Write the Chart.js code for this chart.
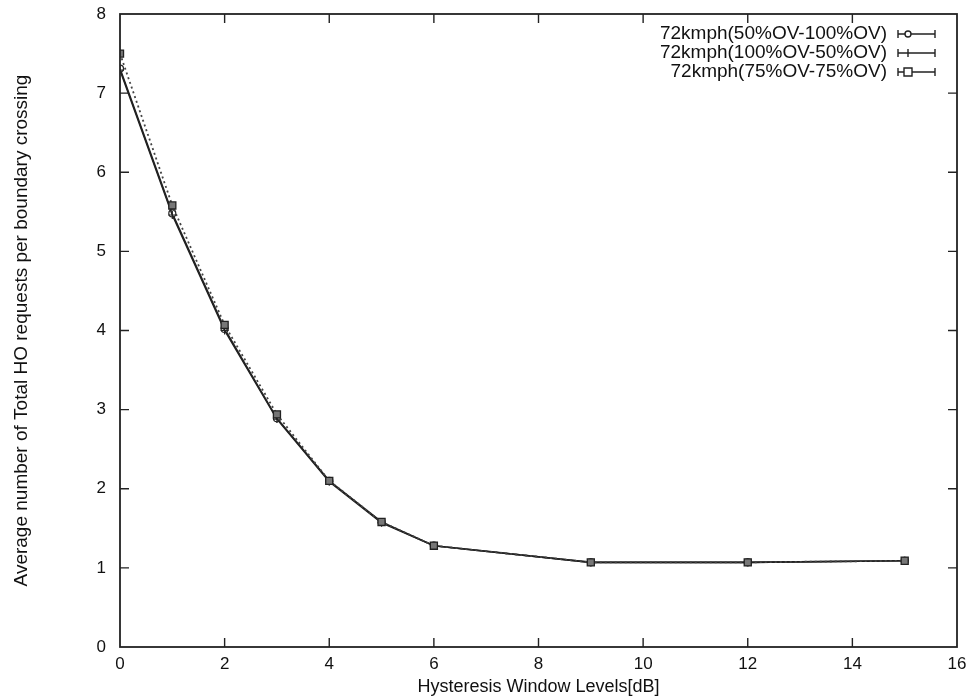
<!DOCTYPE html>
<html>
<head>
<meta charset="utf-8">
<script src="https://cdn.jsdelivr.net/npm/chart.js@4.4.1/dist/chart.umd.min.js"></script>
<style>
  html, body { margin: 0; padding: 0; background: #fff; }
  canvas { display: block; }
</style>
</head>
<body>
<canvas id="ho-chart" width="979" height="699"></canvas>
<script>
// hysteresis window levels (dB)
const hysteresis = [0, 1, 2, 3, 4, 5, 6, 9, 12, 15]

const seriesLabels = [
  '72kmph(50%OV-100%OV)',
  '72kmph(100%OV-50%OV)',
  '72kmph(75%OV-75%OV)'
]
const ov50to100 = [7.31, 5.48, 4.02, 2.89, 2.1, 1.58, 1.28, 1.07, 1.07, 1.09]
const ov100to50 = [7.29, 5.46, 4.0, 2.88, 2.09, 1.57, 1.28, 1.07, 1.07, 1.09]
const ov75to75 = [7.5, 5.58, 4.07, 2.94, 2.1, 1.58, 1.28, 1.07, 1.07, 1.09]

const xTicks = [0, 2, 4, 6, 8, 10, 12, 14, 16]
const yTicks = [0, 1, 2, 3, 4, 5, 6, 7, 8]

const ink = '#222'
const font = "'Liberation Sans', Arial, sans-serif"

const toPoints = (ys) => ys.map((y, i) => ({ x: hysteresis[i], y }))

// gnuplot-like frame with inward mirrored ticks + legend at top right
const framePlugin = {
  id: 'frame',
  afterDatasetsDraw(chart) {
    const { ctx, chartArea: a, scales } = chart
    ctx.save()
    ctx.strokeStyle = ink
    ctx.lineWidth = 1.8
    ctx.strokeRect(a.left, a.top, a.right - a.left, a.bottom - a.top)
    ctx.lineWidth = 1.4
    ctx.beginPath()
    xTicks.slice(1, -1).forEach(v => {
      const px = scales.x.getPixelForValue(v)
      ctx.moveTo(px, a.bottom); ctx.lineTo(px, a.bottom - 9)
      ctx.moveTo(px, a.top); ctx.lineTo(px, a.top + 9)
    })
    yTicks.slice(1, -1).forEach(v => {
      const py = scales.y.getPixelForValue(v)
      ctx.moveTo(a.left, py); ctx.lineTo(a.left + 9, py)
      ctx.moveTo(a.right, py); ctx.lineTo(a.right - 9, py)
    })
    ctx.stroke()

    // legend
    ctx.font = '19px ' + font
    ctx.fillStyle = '#111'
    ctx.textAlign = 'right'
    ctx.textBaseline = 'middle'
    const textRight = a.right - 70
    const x0 = a.right - 59, x1 = a.right - 22
    seriesLabels.forEach((lab, i) => {
      const y = a.top + 20 + i * 19
      ctx.fillText(lab, textRight, y)
      ctx.lineWidth = 1.4
      ctx.beginPath()
      ctx.moveTo(x0, y); ctx.lineTo(x1, y)
      ctx.moveTo(x0, y - 4); ctx.lineTo(x0, y + 4)
      ctx.moveTo(x1, y - 4); ctx.lineTo(x1, y + 4)
      ctx.stroke()
      const mx = x0 + 10
      ctx.beginPath()
      if (i === 0) {
        ctx.fillStyle = '#fff'
        ctx.arc(mx, y, 3, 0, Math.PI * 2)
        ctx.fill(); ctx.stroke()
      } else if (i === 1) {
        ctx.moveTo(mx, y - 4); ctx.lineTo(mx, y + 4)
        ctx.stroke()
      } else {
        ctx.fillStyle = '#fff'
        ctx.rect(mx - 4, y - 4, 8, 8)
        ctx.fill(); ctx.stroke()
      }
      ctx.fillStyle = '#111'
    })
    ctx.restore()
  }
}

new Chart(document.getElementById('ho-chart'), {
  type: 'line',
  data: {
    datasets: [
      {
        label: seriesLabels[0],
        data: toPoints(ov50to100),
        order: 2,
        borderColor: ink,
        borderWidth: 1.6,
        pointStyle: 'circle',
        pointRadius: 3.5,
        pointBorderColor: ink,
        pointBackgroundColor: '#fff',
        pointBorderWidth: 1.2
      },
      {
        label: seriesLabels[1],
        data: toPoints(ov100to50),
        order: 1,
        borderColor: ink,
        borderWidth: 1.6,
        pointStyle: 'cross',
        pointRadius: 4,
        pointBorderColor: ink,
        pointBorderWidth: 1.2
      },
      {
        label: seriesLabels[2],
        data: toPoints(ov75to75),
        order: 0,
        borderColor: '#444',
        borderWidth: 1.8,
        borderDash: [2, 3],
        pointStyle: 'rect',
        pointRadius: 5,
        pointBorderColor: ink,
        pointBackgroundColor: '#777',
        pointBorderWidth: 1.3
      }
    ]
  },
  options: {
    responsive: false,
    animation: false,
    devicePixelRatio: 1,
    layout: { padding: { left: 10, right: 22, top: 14, bottom: 0 } },
    plugins: {
      legend: { display: false },
      tooltip: { enabled: false }
    },
    scales: {
      x: {
        type: 'linear',
        min: 0,
        max: 16,
        afterBuildTicks: (s) => { s.ticks = xTicks.map(v => ({ value: v })) },
        afterFit: (s) => { s.height = 52; s.paddingLeft = 0; s.paddingRight = 0 },
        grid: { display: false, drawTicks: false },
        border: { display: false },
        ticks: { color: '#111', padding: 7, maxRotation: 0, font: { family: font, size: 17 } },
        title: {
          display: true,
          text: 'Hysteresis Window Levels[dB]',
          color: '#111',
          font: { family: font, size: 18 },
          padding: { top: 0, bottom: 1 }
        }
      },
      y: {
        min: 0,
        max: 8,
        afterBuildTicks: (s) => { s.ticks = yTicks.map(v => ({ value: v })) },
        afterFit: (s) => { s.width = 110; s.paddingTop = 0; s.paddingBottom = 0 },
        grid: { display: false, drawTicks: false },
        border: { display: false },
        ticks: { color: '#111', padding: 14, font: { family: font, size: 17 } },
        title: {
          display: true,
          text: 'Average number of Total HO requests per boundary crossing',
          color: '#111',
          font: { family: font, size: 19 },
          padding: { top: 0, bottom: 0 }
        }
      }
    }
  },
  plugins: [framePlugin]
})
</script>
</body>
</html>
